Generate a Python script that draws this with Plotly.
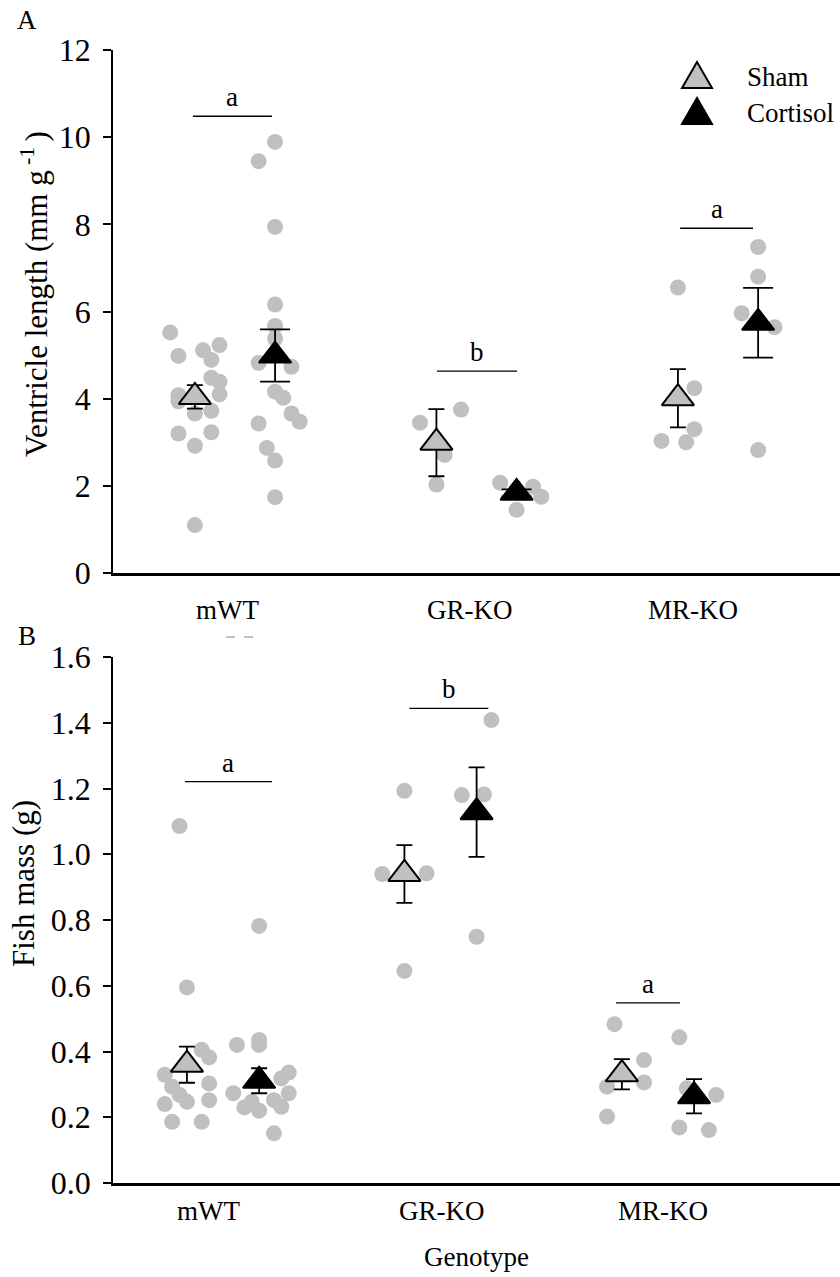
import plotly.graph_objects as go

W, H = 840, 1277
FONT = "Liberation Serif, Times New Roman, serif"
GRAY = "rgb(192,192,192)"

genotypes = ["mWT", "GR-KO", "MR-KO"]

# ---- Panel A: ventricle length (mm g-1), individual fish ----
vl_sham = [
    [5.52, 4.98, 5.11, 5.23, 4.89, 4.48, 4.39, 4.10, 4.08, 3.94, 3.66, 3.72, 3.20, 3.23, 2.92, 1.10],
    [3.75, 3.45, 2.71, 2.03],
    [6.55, 4.24, 3.30, 3.03, 3.00],
]
vl_cort = [
    [9.89, 9.45, 7.94, 6.16, 5.67, 5.38, 4.82, 4.73, 4.16, 4.02, 3.66, 3.47, 3.43, 2.87, 2.58, 1.74],
    [2.07, 1.98, 1.75, 1.45],
    [7.48, 6.80, 5.96, 5.64, 2.82],
]
vl_sham_mean = [4.04, 2.99, 4.01]
vl_sham_se = [0.27, 0.77, 0.67]
vl_cort_mean = [4.99, 1.84, 5.74]
vl_cort_se = [0.60, 0.08, 0.80]
vl_letters = ["a", "b", "a"]

# ---- Panel B: fish mass (g), individual fish ----
fm_sham = [
    [1.086, 0.595, 0.405, 0.382, 0.329, 0.293, 0.268, 0.247, 0.303, 0.240, 0.252, 0.186, 0.186],
    [1.193, 0.940, 0.942, 0.645],
    [0.483, 0.374, 0.306, 0.293, 0.202],
]
fm_cort = [
    [0.782, 0.435, 0.420, 0.420, 0.336, 0.318, 0.273, 0.273, 0.247, 0.230, 0.220, 0.252, 0.232, 0.151],
    [1.408, 1.180, 1.182, 0.749],
    [0.443, 0.288, 0.268, 0.169, 0.161],
]
fm_sham_mean = [0.360, 0.940, 0.331]
fm_sham_se = [0.055, 0.088, 0.046]
fm_cort_mean = [0.311, 1.128, 0.264]
fm_cort_se = [0.038, 0.136, 0.052]
fm_letters = ["a", "b", "a"]

# horizontal spread of overlapping dots (in dot-widths)
vl_sham_jit = [[-3, -2, 1, 3, 2, 2, 3, 3, -2, -2, 0, 2, -2, 2, 0, 0], [3, -2, 1, 0], [0, 2, 2, -2, 1]]
vl_cort_jit = [[0, -2, 0, 0, 0, 0, -2, 2, 0, 1, 2, 3, -2, -1, 0, 0], [-2, 2, 3, 0], [0, 0, -2, 2, 0]]
fm_sham_jit = [[-1, 0, 2, 3, -3, -2, -1, 0, 3, -3, 3, -2, 2], [0, -3, 3, 0], [-1, 3, 3, -2, -2]]
fm_cort_jit = [[0, 0, 0, -3, 4, 3, -3.5, 4, -1, -2, 0, 2, 3, 2], [2, -2, 1, 0], [-2, -1, 3, -2, 2]]

OFFSET = 0.166   # sham / cortisol shift from genotype centre
STEP = 0.034     # one dot width in genotype units


def px_x(p):
    return p / W


def px_y(p):
    return 1 - p / H


fig = go.Figure()


def add_panel(xa, ya, sham, cort, sj, cj, sm, sse, cm, cse, cap_s, cap_c):
    for g in range(3):
        for vals, jit, sgn in ((sham[g], sj[g], -1), (cort[g], cj[g], 1)):
            fig.add_trace(go.Scatter(
                x=[g + 1 + sgn * OFFSET + j * STEP for j in jit], y=vals,
                mode="markers", xaxis=xa, yaxis=ya, showlegend=False, hoverinfo="skip",
                marker=dict(color=GRAY, size=16, line=dict(width=0))))
    xs = [g + 1 - OFFSET for g in range(3)]
    xc = [g + 1 + OFFSET for g in range(3)]
    fig.add_trace(go.Scatter(
        x=xs, y=sm, mode="markers", xaxis=xa, yaxis=ya, name="Sham", showlegend=False,
        error_y=dict(type="data", array=sse, color="black", thickness=1.8, width=cap_s),
        marker=dict(symbol="triangle-up", size=28, color=GRAY, line=dict(color="black", width=2))))
    fig.add_trace(go.Scatter(
        x=xc, y=cm, mode="markers", xaxis=xa, yaxis=ya, name="Cortisol", showlegend=False,
        error_y=dict(type="data", array=cse, color="black", thickness=1.8, width=cap_c),
        marker=dict(symbol="triangle-up", size=28, color="black", line=dict(color="black", width=2))))


add_panel("x", "y", vl_sham, vl_cort, vl_sham_jit, vl_cort_jit,
          vl_sham_mean, vl_sham_se, vl_cort_mean, vl_cort_se, 8, 15)
add_panel("x2", "y2", fm_sham, fm_cort, fm_sham_jit, fm_cort_jit,
          fm_sham_mean, fm_sham_se, fm_cort_mean, fm_cort_se, 8, 8)

# significance bars
vl_bars = [(0.826, 1.153, 10.48), (1.836, 2.168, 4.63), (2.843, 3.145, 7.91)]
fm_bars = [(0.825, 1.225, 1.221), (1.857, 2.220, 1.444), (2.807, 3.101, 0.548)]

shapes, annots = [], []
for bars, letters, xr, yr in ((vl_bars, vl_letters, "x", "y"), (fm_bars, fm_letters, "x2", "y2")):
    for (x0, x1, yv), lt in zip(bars, letters):
        shapes.append(dict(type="line", xref=xr, yref=yr, x0=x0, x1=x1, y0=yv, y1=yv,
                           line=dict(color="black", width=1.3)))
        annots.append(dict(xref=xr, yref=yr, x=(x0 + x1) / 2, y=yv, text=lt, showarrow=False,
                           yanchor="bottom", yshift=2, font=dict(family=FONT, size=27, color="black")))

# genotype labels under each panel
vl_label_x = [0.967, 1.973, 2.896]
fm_label_x = [0.931, 2.007, 3.023]
for xr, lx, py in (("x", vl_label_x, 610), ("x2", fm_label_x, 1211)):
    for name, xv in zip(genotypes, lx):
        annots.append(dict(xref=xr, yref="paper", x=xv, y=px_y(py), text=name, showarrow=False,
                           xanchor="center", yanchor="middle",
                           font=dict(family=FONT, size=27, color="black")))

# faint clipped stroke below the panel A mWT label
shapes.append(dict(type="line", xref="paper", yref="paper", x0=px_x(226), x1=px_x(258),
                   y0=px_y(637), y1=px_y(637), line=dict(color="rgb(130,130,130)", width=1, dash="dash")))

texts = [
    ("A", 27, 20, 0, 27), ("B", 27, 636, 0, 27),
    ("Genotype", 476, 1257, 0, 27),
    ("Ventricle length (mm g<sup> -1 </sup>)", 34, 294, -90, 31),
    ("Fish mass (g)", 23, 884, -90, 31),
]
for t, x, y, ang, fs in texts:
    annots.append(dict(xref="paper", yref="paper", x=px_x(x), y=px_y(y), text=t, showarrow=False,
                       xanchor="center", yanchor="middle", textangle=ang,
                       font=dict(family=FONT, size=fs, color="black")))

# legend
legend_items = [("Sham", GRAY, 75), ("Cortisol", "black", 111)]
for name, col, cy in legend_items:
    cx, hw, hh = 697, 15, 13
    path = (f"M {px_x(cx - hw)} {px_y(cy + hh)} L {px_x(cx + hw)} {px_y(cy + hh)} "
            f"L {px_x(cx)} {px_y(cy - hh)} Z")
    shapes.append(dict(type="path", xref="paper", yref="paper", path=path,
                       fillcolor=col, line=dict(color="black", width=2)))
    annots.append(dict(xref="paper", yref="paper", x=px_x(745), y=px_y(cy + 2), text=name,
                       showarrow=False, xanchor="left", yanchor="middle",
                       font=dict(family=FONT, size=27, color="black")))

axis_common = dict(showgrid=False, zeroline=False, showline=True, linecolor="black", automargin=False)
fig.update_layout(
    width=W, height=H, margin=dict(l=0, r=0, t=0, b=0, autoexpand=False),
    plot_bgcolor="white", paper_bgcolor="white", showlegend=False,
    font=dict(family=FONT, size=27, color="black"),
    shapes=shapes, annotations=annots,
    xaxis=dict(domain=[px_x(113), 1], range=[0.495, 3.505], anchor="y",
               showticklabels=False, ticks="", linewidth=2.5, **axis_common),
    yaxis=dict(domain=[px_y(573), px_y(50)], range=[0, 12], dtick=2, anchor="x",
               ticks="outside", ticklen=8, tickwidth=1.5, tickcolor="black",
               linewidth=1.5, ticklabelstandoff=6,
               tickfont=dict(family=FONT, size=32), **axis_common),
    xaxis2=dict(domain=[px_x(113), 1], range=[0.494, 3.837], anchor="y2",
                showticklabels=False, ticks="", linewidth=2.5, **axis_common),
    yaxis2=dict(domain=[px_y(1183), px_y(657)], range=[0, 1.6], dtick=0.2, tickformat=".1f",
                anchor="x2", ticks="outside", ticklen=8, tickwidth=1.5, tickcolor="black",
                linewidth=1.5, ticklabelstandoff=6,
                tickfont=dict(family=FONT, size=32), **axis_common),
)

fig.write_html("out.html")
